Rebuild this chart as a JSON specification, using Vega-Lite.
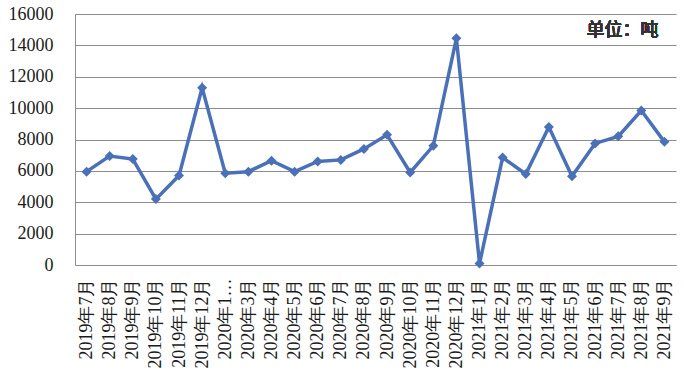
{
  "$schema": "https://vega.github.io/schema/vega-lite/v6.json",
  "width": 601,
  "height": 251,
  "autosize": {"type": "none"},
  "padding": {"left": 75, "top": 14, "right": 8, "bottom": 108},
  "background": "white",
  "config": {
    "view": {"stroke": null},
    "axis": {"labelFont": "Liberation Serif", "labelColor": "#1a1a1a", "labelFontSize": 18, "labelOverlap": false, "labelFlush": false}
  },
  "data": {
    "values": [
      {"month": "2019年7月", "value": 5950},
      {"month": "2019年8月", "value": 6950},
      {"month": "2019年9月", "value": 6750},
      {"month": "2019年10月", "value": 4200},
      {"month": "2019年11月", "value": 5700},
      {"month": "2019年12月", "value": 11300},
      {"month": "2020年1…", "value": 5850},
      {"month": "2020年3月", "value": 5950},
      {"month": "2020年4月", "value": 6650},
      {"month": "2020年5月", "value": 5950},
      {"month": "2020年6月", "value": 6600},
      {"month": "2020年7月", "value": 6700},
      {"month": "2020年8月", "value": 7400},
      {"month": "2020年9月", "value": 8300},
      {"month": "2020年10月", "value": 5900},
      {"month": "2020年11月", "value": 7600},
      {"month": "2020年12月", "value": 14450},
      {"month": "2021年1月", "value": 100},
      {"month": "2021年2月", "value": 6850},
      {"month": "2021年3月", "value": 5800},
      {"month": "2021年4月", "value": 8800},
      {"month": "2021年5月", "value": 5650},
      {"month": "2021年6月", "value": 7750},
      {"month": "2021年7月", "value": 8200},
      {"month": "2021年8月", "value": 9850},
      {"month": "2021年9月", "value": 7850}
    ]
  },
  "encoding": {
    "x": {
      "field": "month", "type": "ordinal", "sort": null,
      "scale": {"paddingInner": 0, "paddingOuter": 0.5},
      "axis": {
        "title": null, "labelAngle": -90, "labelAlign": "right", "labelBaseline": "middle",
        "ticks": false, "tickSize": 0, "labelPadding": 13, "domainColor": "#8c8c8c", "domainWidth": 1,
        "grid": false, "labelLimit": 200
      }
    },
    "y": {
      "field": "value", "type": "quantitative",
      "scale": {"domain": [0, 16000], "nice": false},
      "axis": {
        "title": null, "values": [0, 2000, 4000, 6000, 8000, 10000, 12000, 14000, 16000],
        "format": "d", "ticks": false, "tickSize": 0, "labelPadding": 22, "labelOverlap": false,
        "domainColor": "#8c8c8c", "gridColor": "#8c8c8c", "gridWidth": 1, "grid": true
      }
    }
  },
  "layer": [
    {
      "mark": {"type": "line", "color": "#4a70b8", "strokeWidth": 3.5}
    },
    {
      "mark": {"type": "point", "shape": "diamond", "filled": true, "size": 100, "color": "#4a70b8", "opacity": 1}
    },
    {
      "mark": {"type": "text", "align": "right", "baseline": "middle", "font": "Noto Sans CJK SC", "fontWeight": "normal", "fontSize": 18, "color": "#333333", "dx": -6},
      "encoding": {
        "x": {"datum": "2021年9月", "type": "ordinal"},
        "y": {"datum": 14900, "type": "quantitative"},
        "text": {"value": "单位：吨"}
      }
    }
  ]
}
